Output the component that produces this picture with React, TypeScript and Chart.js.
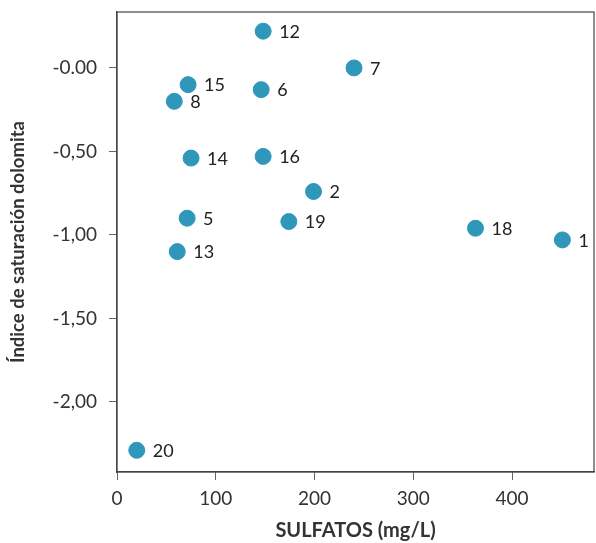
import React, { useEffect, useRef } from "react";
import { Chart, registerables } from "chart.js";

Chart.register(...registerables);

const pointIds = ["12", "7", "15", "8", "6", "14", "16", "2", "5", "19", "13", "18", "1", "20"];
const sulfatos = [148, 240, 72, 58, 146, 75, 148, 199, 71, 174, 61, 363, 451, 20];
const saturacion = [0.22, 0.0, -0.1, -0.2, -0.13, -0.54, -0.53, -0.74, -0.9, -0.92, -1.1, -0.96, -1.03, -2.29];
const yTicks = [0, -0.5, -1.0, -1.5, -2.0];
const yTickLabels = ["-0.00", "-0,50", "-1,00", "-1,50", "-2,00"];
const xTicks = [0, 100, 200, 300, 400];

const FONT = "Lato, 'Open Sans', sans-serif";

const labelPlugin = {
  id: "pointLabels",
  afterDatasetsDraw(chart: any) {
    const ctx = chart.ctx;
    const meta = chart.getDatasetMeta(0);
    ctx.save();
    ctx.font = `18px ${FONT}`;
    ctx.fillStyle = "#222";
    ctx.textAlign = "left";
    ctx.textBaseline = "middle";
    meta.data.forEach((el: any, i: number) => {
      ctx.fillText(pointIds[i], el.x + 16, el.y + 1);
    });
    ctx.restore();
  },
};

const framePlugin = {
  id: "frame",
  afterDraw(chart: any) {
    const { ctx, chartArea } = chart;
    ctx.save();
    ctx.strokeStyle = "#444";
    ctx.lineWidth = 1.2;
    ctx.strokeRect(chartArea.left, chartArea.top, chartArea.right - chartArea.left, chartArea.bottom - chartArea.top);
    ctx.restore();
  },
};

export default function App() {
  const ref = useRef<HTMLCanvasElement>(null);
  useEffect(() => {
    const chart = new Chart(ref.current!, {
      type: "scatter",
      data: {
        datasets: [
          {
            data: sulfatos.map((x, i) => ({ x, y: saturacion[i] })),
            backgroundColor: "#2f97ba",
            borderColor: "#2f97ba",
            pointRadius: 8,
            pointHoverRadius: 8,
          },
        ],
      },
      options: {
        animation: false,
        responsive: false,
        events: [],
        layout: { autoPadding: false, padding: { top: 12, right: 2, left: 0, bottom: 0 } },
        plugins: { legend: { display: false }, tooltip: { enabled: false } },
        scales: {
          x: {
            type: "linear",
            min: 0,
            max: 483,
            afterBuildTicks: (s: any) => {
              s.ticks = xTicks.map((v) => ({ value: v }));
            },
            afterFit: (s: any) => {
              s.height = 71;
              s.paddingLeft = 0;
              s.paddingRight = 0;
            },
            border: { display: true, color: "#444", width: 1.2 },
            grid: { drawOnChartArea: false, drawTicks: true, tickLength: 8, color: "#666" },
            ticks: {
              font: { family: FONT, size: 19 },
              color: "#333",
              padding: 7,
              maxRotation: 0,
            },
            title: {
              display: true,
              text: "SULFATOS (mg/L)",
              font: { family: FONT, size: 20, weight: "bold" },
              color: "#333",
              padding: { top: 4, bottom: 0 },
            },
          },
          y: {
            type: "linear",
            min: -2.42,
            max: 0.335,
            afterBuildTicks: (s: any) => {
              s.ticks = yTicks.map((v) => ({ value: v }));
            },
            afterFit: (s: any) => {
              s.width = 117;
              s.paddingTop = 0;
              s.paddingBottom = 0;
            },
            border: { display: true, color: "#444", width: 1.2 },
            grid: { drawOnChartArea: false, drawTicks: true, tickLength: 8, color: "#666" },
            ticks: {
              font: { family: FONT, size: 19 },
              color: "#333",
              padding: 12,
              callback: (v: any) => {
                const idx = yTicks.findIndex((t) => Math.abs(t - Number(v)) < 1e-6);
                return idx >= 0 ? yTickLabels[idx] : "";
              },
            },
            title: {
              display: true,
              text: "Índice de saturación dolomita",
              font: { family: FONT, size: 18.5, weight: "bold" },
              color: "#333",
              padding: { top: 7, bottom: 0 },
            },
          },
        },
      },
      plugins: [labelPlugin, framePlugin],
    } as any);
    return () => chart.destroy();
  }, []);
  return (
    <div style={{ position: "fixed", left: 0, top: 0, width: 596, height: 543, background: "#fff" }}>
      <canvas ref={ref} width={596} height={543} style={{ width: 596, height: 543, display: "block" }} />
    </div>
  );
}
